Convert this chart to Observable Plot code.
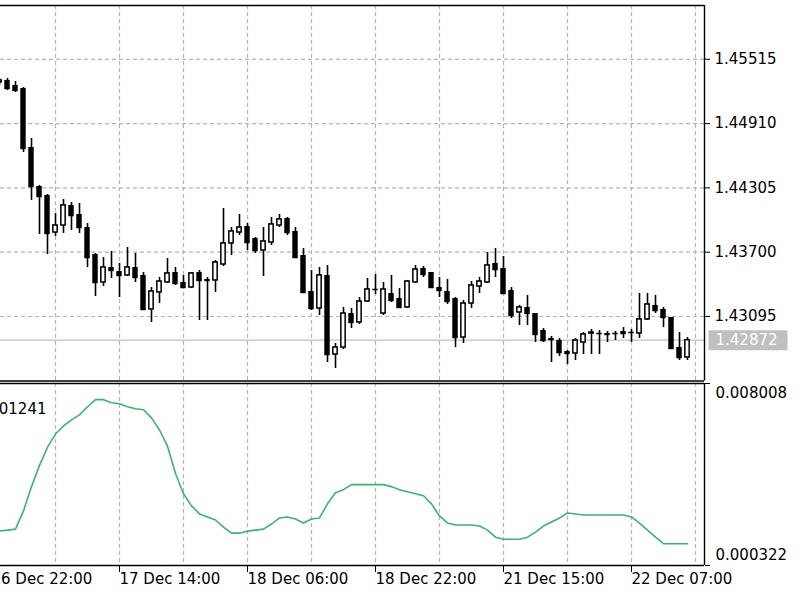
<!DOCTYPE html>
<html><head><meta charset="utf-8">
<script src="https://cdn.jsdelivr.net/npm/d3@7"></script>
<script src="https://cdn.jsdelivr.net/npm/@observablehq/plot@0.6"></script>
<style>
html,body{margin:0;padding:0;background:#fff;overflow:hidden}
#chart svg{display:block}
</style>
</head><body><div id="chart"></div>
<script>
// ---- data (H1 candles, index 0 = 16 Dec 23:00) ----
const opens = [1.45297,1.45316,1.45269,1.45240,1.44685,1.44318,1.44234,1.43885,1.43951,1.44140,
1.44055,1.43932,1.43678,1.43415,1.43556,1.43518,1.43481,1.43556,1.43481,1.43161,
1.43321,1.43415,1.43509,1.43415,1.43368,1.43509,1.43443,1.43434,1.43584,1.43782,
1.43885,1.43942,1.43829,1.43716,1.43791,1.43951,1.44017,1.43895,1.43669,1.43330,
1.43170,1.43481,1.42737,1.42803,1.43123,1.43039,1.43236,1.43349,1.43123,1.43311,
1.43264,1.43180,1.43415,1.43547,1.43509,1.43368,1.43330,1.43264,1.42897,1.43217,
1.43377,1.43415,1.43594,1.43547,1.43340,1.43133,1.43180,1.43123,1.42963,1.42888,
1.42869,1.42766,1.42747,1.42850,1.42935,1.42935,1.42935,1.42935,1.42954,1.42944,
1.42935,1.43067,1.43199,1.43161,1.43086,1.42803,1.42709];
const highs = [1.45335,1.45335,1.45306,1.45250,1.44770,1.44328,1.44243,1.44064,1.44196,1.44168,
1.44158,1.43970,1.43688,1.43650,1.43707,1.43594,1.43744,1.43688,1.43509,1.43368,
1.43462,1.43641,1.43556,1.43481,1.43509,1.43528,1.43462,1.43622,1.44111,1.43932,
1.44055,1.43970,1.43838,1.43932,1.44027,1.44055,1.44027,1.43932,1.43735,1.43528,
1.43556,1.43575,1.42841,1.43180,1.43170,1.43274,1.43453,1.43490,1.43415,1.43481,
1.43358,1.43434,1.43575,1.43566,1.43509,1.43462,1.43443,1.43274,1.43246,1.43424,
1.43462,1.43697,1.43735,1.43660,1.43368,1.43199,1.43293,1.43123,1.42982,1.42907,
1.42888,1.42775,1.42888,1.42944,1.42973,1.42963,1.42954,1.42954,1.42991,1.42973,
1.43311,1.43311,1.43293,1.43180,1.43086,1.42944,1.42897];
const lows = [1.45269,1.45222,1.45203,1.44638,1.44187,1.43867,1.43678,1.43848,1.43876,1.43904,
1.43876,1.43556,1.43283,1.43377,1.43453,1.43274,1.43471,1.43415,1.43151,1.43039,
1.43217,1.43406,1.43387,1.43358,1.43358,1.43057,1.43057,1.43321,1.43566,1.43669,
1.43857,1.43716,1.43688,1.43471,1.43763,1.43932,1.43857,1.43641,1.43321,1.43151,
1.43104,1.42662,1.42606,1.42784,1.42982,1.43020,1.43227,1.43302,1.43104,1.43227,
1.43170,1.43170,1.43406,1.43462,1.43358,1.43274,1.43208,1.42803,1.42841,1.43170,
1.43311,1.43406,1.43462,1.43311,1.43076,1.43010,1.43010,1.42850,1.42850,1.42662,
1.42719,1.42643,1.42681,1.42737,1.42737,1.42737,1.42850,1.42869,1.42888,1.42850,
1.42888,1.43057,1.43123,1.42991,1.42794,1.42681,1.42681];
const closes = [1.45316,1.45240,1.45222,1.44676,1.44318,1.44224,1.43876,1.43951,1.44140,1.44045,
1.43932,1.43650,1.43415,1.43556,1.43528,1.43481,1.43556,1.43462,1.43161,1.43330,
1.43424,1.43500,1.43406,1.43368,1.43500,1.43434,1.43434,1.43603,1.43782,1.43895,
1.43932,1.43791,1.43716,1.43801,1.43961,1.44008,1.43885,1.43650,1.43321,1.43170,
1.43481,1.42737,1.42803,1.43123,1.43039,1.43236,1.43349,1.43349,1.43349,1.43246,
1.43180,1.43424,1.43537,1.43490,1.43368,1.43340,1.43236,1.42897,1.43217,1.43387,
1.43424,1.43575,1.43537,1.43311,1.43104,1.43180,1.43123,1.42926,1.42869,1.42878,
1.42756,1.42747,1.42869,1.42926,1.42944,1.42935,1.42926,1.42935,1.42935,1.42944,
1.43067,1.43208,1.43151,1.43086,1.42794,1.42709,1.42872];
const indicator = [0.001774,0.001817,0.001859,0.002628,0.003653,0.004549,0.005318,0.005873,0.006215,0.006471,
0.006684,0.007026,0.007325,0.007325,0.007197,0.007154,0.007026,0.006941,0.006898,0.006556,
0.006044,0.005361,0.004208,0.003354,0.002841,0.002500,0.002372,0.002244,0.001945,0.001688,
0.001688,0.001774,0.001817,0.001859,0.002073,0.002329,0.002372,0.002286,0.002115,0.002286,
0.002329,0.002927,0.003396,0.003525,0.003738,0.003738,0.003738,0.003738,0.003738,0.003653,
0.003525,0.003439,0.003354,0.003268,0.002927,0.002414,0.002115,0.002030,0.002030,0.002030,
0.001987,0.001817,0.001518,0.001432,0.001432,0.001432,0.001518,0.001731,0.001987,0.002158,
0.002329,0.002542,0.002500,0.002457,0.002457,0.002457,0.002457,0.002457,0.002457,0.002372,
0.002115,0.001817,0.001518,0.001241,0.001241,0.001241,0.001241];

const priceTicks = [1.45515, 1.44910, 1.44305, 1.43700, 1.43095];
const lastClose = 1.42872;
const indTicks = [0.000322, 0.008008];
const indLabel = "0.001241";
const dateTickIdx = [-1, 15, 31, 47, 63, 79];
const dateLabels = ["16 Dec 22:00", "17 Dec 14:00", "18 Dec 06:00", "18 Dec 22:00", "21 Dec 15:00", "22 Dec 07:00"];
const gridIdx = [7, 15, 23, 31, 39, 47, 55, 63, 71, 79, 87];

// ---- layout / scale extents ----
const xDomain = [0.125, 88.125];
const priceDomain = [1.42488, 1.46021];
const indDomain = [0.000322, 0.008008];

const candles = opens.map((o, i) => ({i, open: o, high: highs[i], low: lows[i], close: closes[i]}));
const bulls = candles.filter(d => d.close > d.open);
const bears = candles.filter(d => d.close < d.open);
const ind = indicator.map((v, i) => ({i, v}));

const gridColor = "#b4b4b4";
const dash = "4,3";
const font = {fontFamily: "DejaVu Sans, Verdana, sans-serif", fontSize: "15px", background: "white", color: "black", overflow: "visible"};
const half = 0.34;
const boxSymbol = {draw(ctx) { ctx.rect(-39.5, -10, 79, 20); }};

const main = Plot.plot({
  width: 800, height: 382,
  marginTop: 5, marginBottom: 1.5, marginLeft: 0, marginRight: 96,
  style: font,
  x: {domain: xDomain, axis: null},
  y: {domain: priceDomain, axis: "right", ticks: priceTicks, tickFormat: d => d.toFixed(5), tickSize: 5, tickPadding: 5, label: null},
  marks: [
    Plot.ruleY(priceTicks, {stroke: gridColor, strokeDasharray: dash, strokeWidth: 1.2}),
    Plot.ruleX(gridIdx, {stroke: gridColor, strokeDasharray: dash, strokeWidth: 1.2}),
    Plot.ruleY([lastClose], {stroke: "#c0c0c0", strokeWidth: 1.3}),
    Plot.ruleX(candles, {x: "i", y1: "low", y2: "high", stroke: "black", strokeWidth: 1.6}),
    Plot.ruleY(candles, {y: "close", x1: d => d.i - half, x2: d => d.i + half, stroke: "black", strokeWidth: 1.5}),
    Plot.rect(bears, {x1: d => d.i - half, x2: d => d.i + half, y1: "open", y2: "close", fill: "black"}),
    Plot.rect(bulls, {x1: d => d.i - half + 0.07, x2: d => d.i + half - 0.07, y1: "open", y2: "close", fill: "white", stroke: "black", strokeWidth: 1.5}),
    Plot.ruleY([priceDomain[1], priceDomain[0]], {stroke: "black", strokeWidth: 1.4}),
    Plot.ruleX([xDomain[1]], {stroke: "black", strokeWidth: 1.4}),
    Plot.dot([lastClose], {y: d => d, frameAnchor: "right", dx: 43.5, symbol: boxSymbol, fill: "#c0c0c0", stroke: null}),
    Plot.text([lastClose], {y: d => d, text: d => d.toFixed(5), frameAnchor: "right", dx: 11, textAnchor: "start", fill: "white"})
  ]
});

const lower = Plot.plot({
  width: 800, height: 218,
  marginTop: 1, marginBottom: 35, marginLeft: 0, marginRight: 96,
  style: font,
  x: {domain: xDomain, axis: "bottom", ticks: dateTickIdx.filter(d => d > 0), tickFormat: () => "", tickSize: 7, label: null},
  y: {domain: indDomain, axis: "right", ticks: indTicks, tickFormat: () => "", tickSize: 5, label: null},
  marks: [
    Plot.ruleX(gridIdx, {stroke: gridColor, strokeDasharray: dash, strokeWidth: 1.2}),
    Plot.line(ind, {x: "i", y: "v", stroke: "#3cb371", strokeWidth: 1.6}),
    Plot.ruleY(indDomain, {stroke: "black", strokeWidth: 1.4}),
    Plot.ruleX([xDomain[1]], {stroke: "black", strokeWidth: 1.4}),
    Plot.text(dateTickIdx, {x: d => d, text: (d, i) => dateLabels[i], frameAnchor: "bottom", dy: 18, textAnchor: "start"}),
    Plot.text([indTicks[1]], {y: d => d, text: d => d.toFixed(6), frameAnchor: "right", dx: 11, dy: 10, textAnchor: "start"}),
    Plot.text([indTicks[0]], {y: d => d, text: d => d.toFixed(6), frameAnchor: "right", dx: 11, dy: -10, textAnchor: "start"}),
    Plot.text([indLabel], {text: d => d, frameAnchor: "top-left", dx: 46, dy: 20, textAnchor: "end"})
  ]
});

const host = document.getElementById("chart");
host.appendChild(main);
host.appendChild(lower);
</script>
</body></html>
